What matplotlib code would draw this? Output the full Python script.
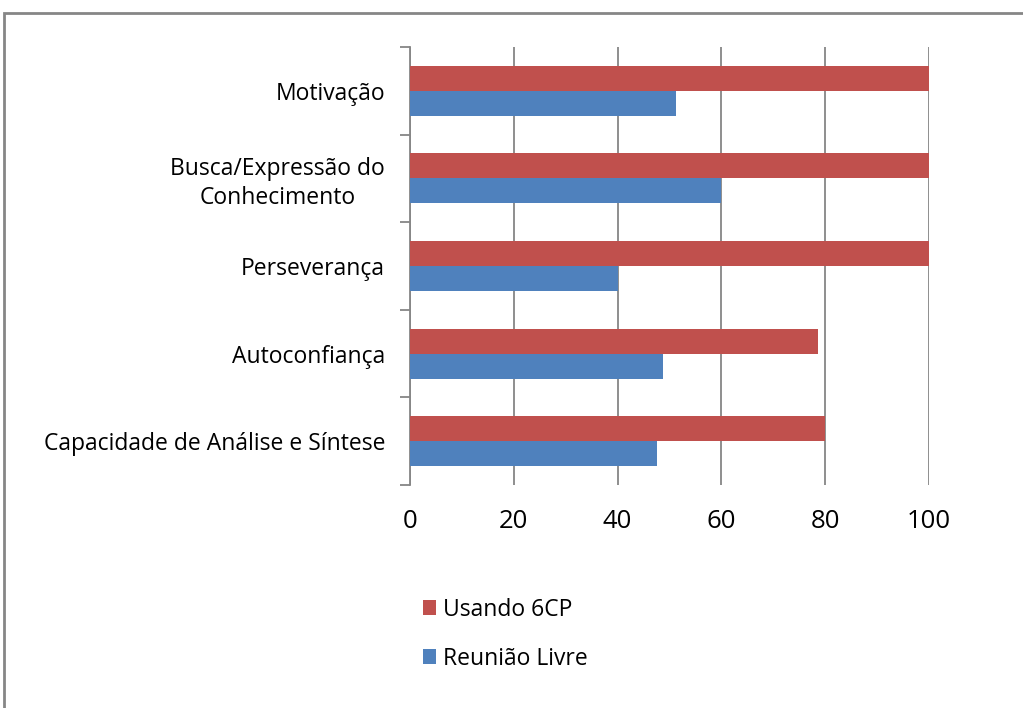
import matplotlib.pyplot as plt
import numpy as np
from matplotlib.patches import Rectangle

# dados (de baixo para cima)
categorias = ['Capacidade de Análise e Síntese', 'Autoconfiança', 'Perseverança',
              'Busca/Expressão do\nConhecimento', 'Motivação']
usando_6cp = [80, 78.6, 100, 100, 100]
reuniao_livre = [47.5, 48.7, 40, 60, 51.2]

cor_vermelho = '#c0504d'
cor_azul = '#4f81bd'

plt.rcParams['font.family'] = ['Open Sans', 'DejaVu Sans']

fig = plt.figure(figsize=(10.23, 7.08), dpi=100)
ax = fig.add_axes([410 / 1023, 1 - 485 / 708, (929 - 410) / 1023, (485 - 47) / 708])

y = np.arange(len(categorias))
h = 0.285
ax.barh(y + h / 2, usando_6cp, height=h, color=cor_vermelho, label='Usando 6CP', zorder=3)
ax.barh(y - h / 2, reuniao_livre, height=h, color=cor_azul, label='Reunião Livre', zorder=3)

ax.set_xlim(0, 100)
ax.set_ylim(-0.5, len(categorias) - 0.5)
ax.set_xticks([0, 20, 40, 60, 80, 100])
ax.grid(axis='x', color='#868686', linewidth=1.3, zorder=0)

# rótulos das categorias nos centros, marcas nas divisões
ax.set_yticks(y)
ax.set_yticklabels(categorias, fontsize=16.5, linespacing=1.25, multialignment='center')
ax.tick_params(axis='y', length=0, pad=18)
ax.set_yticks(np.arange(-0.5, len(categorias), 1), minor=True)
ax.tick_params(axis='y', which='minor', length=7, color='#868686', width=1.3)
ax.tick_params(axis='x', length=0, labelsize=18.5, pad=17)

for s in ['top', 'right', 'bottom']:
    ax.spines[s].set_visible(False)
ax.spines['left'].set_color('#868686')
ax.spines['left'].set_linewidth(1.3)

handles, labels = ax.get_legend_handles_labels()
fig.legend(handles, labels, loc='upper left', bbox_to_anchor=(402 / 1023, 1 - 577 / 708),
           frameon=False, fontsize=16.5, handlelength=0.6, handleheight=0.6,
           labelspacing=1.1, handletextpad=0.3)

# moldura cinza do gráfico
fig.patches.append(Rectangle((4 / 1023, -0.05), 1.1, 1 - 13 / 708 + 0.05,
                             transform=fig.transFigure, fill=False,
                             edgecolor='#868686', linewidth=2))

fig.savefig('out.png', dpi=100)
